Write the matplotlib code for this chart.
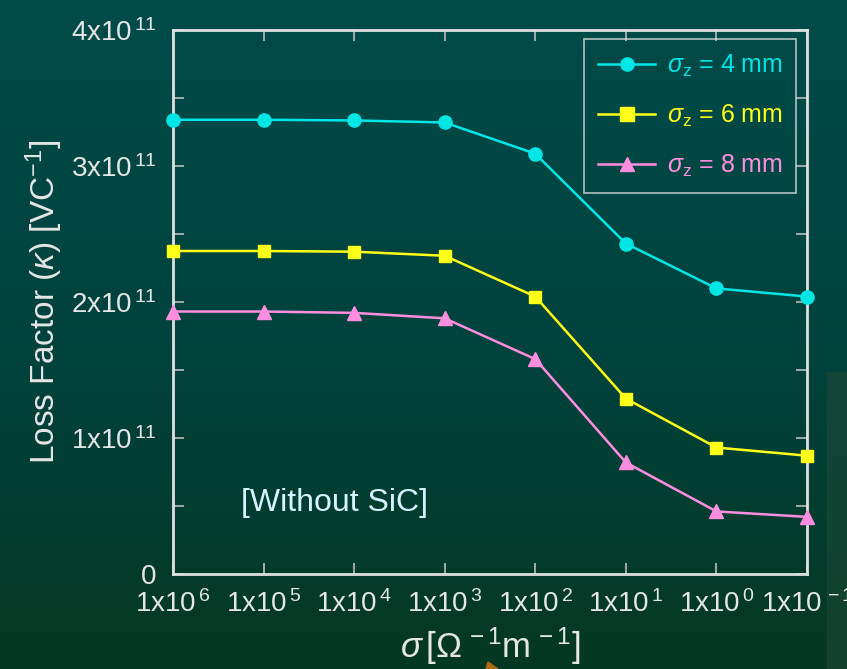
import numpy as np
import matplotlib
matplotlib.use("Agg")
import matplotlib.pyplot as plt
from matplotlib.lines import Line2D
from matplotlib.patches import Rectangle, Polygon

plt.rcParams['font.family'] = ['Liberation Sans', 'DejaVu Sans']
plt.rcParams['mathtext.fontset'] = 'custom'
plt.rcParams['mathtext.rm'] = 'Liberation Sans'
plt.rcParams['mathtext.it'] = 'Liberation Sans:italic'

# Conductivity sweep [1/(Ohm m)] and loss factor [V/C]
conductivity = [1e6, 1e5, 1e4, 1e3, 1e2, 1e1, 1e0, 1e-1]
loss_4mm = [3.34e11, 3.34e11, 3.335e11, 3.32e11, 3.09e11, 2.43e11, 2.10e11, 2.04e11]
loss_6mm = [2.375e11, 2.375e11, 2.37e11, 2.34e11, 2.04e11, 1.29e11, 0.93e11, 0.87e11]
loss_8mm = [1.93e11, 1.93e11, 1.92e11, 1.88e11, 1.58e11, 0.82e11, 0.46e11, 0.42e11]

x_tick_exps = [6, 5, 4, 3, 2, 1, 0, -1]
y_tick_vals = [0, 1e11, 2e11, 3e11, 4e11]
y_tick_labels = ['0'] + [r'$\mathrm{%dx10^{\,11}}$' % k for k in (1, 2, 3, 4)]

series_labels = ['4 mm', '6 mm', '8 mm']
series_colors = ['#00e6e6', '#ffff1a', '#ff8ee0']
series_markers = ['o', 's', '^']

TEXT = '#e6e6e6'
W, H = 847, 669
fig = plt.figure(figsize=(W / 100, H / 100), dpi=100)

# slide background: vertical teal-to-green gradient
bg = fig.add_axes([0, 0, 1, 1], zorder=-10)
top = np.array([0x00, 0x4b, 0x4a]) / 255
mid = np.array([0x00, 0x42, 0x3c]) / 255
bot = np.array([0x05, 0x38, 0x22]) / 255
t = np.linspace(0, 1, 256)[:, None]
grad = np.where(t < 0.55, top + (mid - top) * (t / 0.55),
                mid + (bot - mid) * ((t - 0.55) / 0.45))
bg.imshow(grad[:, None, :], aspect='auto', extent=[0, W, H, 0])
bg.add_patch(Rectangle((827, 372), 20, 297, color='#1c4836', alpha=0.6))
bg.add_patch(Polygon([[486, 669], [488, 662], [498, 669]], closed=True, color='#b06a10'))
bg.set_xlim(0, W)
bg.set_ylim(H, 0)
bg.axis('off')

ax = fig.add_axes([173 / W, 1 - 574 / H, (807 - 173) / W, (574 - 30) / H])
ax.set_facecolor('none')

series = [loss_4mm, loss_6mm, loss_8mm]
for vals, col, mk in zip(series, series_colors, series_markers):
    ax.plot(conductivity, vals, color=col, marker=mk, markersize=9.5 if mk != 's' else 9,
            lw=1.8, clip_on=False, zorder=5)

ax.set_xscale('log')
ax.set_xlim(1e6, 1e-1)
ax.set_ylim(0, 4e11)
ax.set_xticks([10.0 ** e for e in x_tick_exps])
ax.set_xticklabels([r'$\mathrm{1x10^{\,%d}}$' % e for e in x_tick_exps])
ax.xaxis.set_minor_locator(matplotlib.ticker.NullLocator())
ax.set_yticks(y_tick_vals)
ax.set_yticklabels(y_tick_labels)
ax.set_yticks(np.arange(0.5e11, 4e11, 1e11), minor=True)

for sp in ax.spines.values():
    sp.set_color('#e0e0e0')
    sp.set_linewidth(2)
ax.tick_params(which='both', direction='in', top=True, right=True,
               colors='#bdbdbd', labelcolor=TEXT, labelsize=20, width=1.2)
ax.tick_params(which='major', length=8)
ax.tick_params(which='minor', length=8)
ax.tick_params(axis='x', pad=12)
ax.tick_params(axis='y', pad=12)

ax.set_xlabel(r'$\mathit{\sigma}\,[\Omega^{\mathrm{\,-1}}\mathrm{m}^{\mathrm{\,-1}}]$',
              fontsize=25, color=TEXT, labelpad=5)
ax.set_ylabel(r'Loss Factor ($\mathit{\kappa}$) [VC$^{\mathrm{-1}}$]',
              fontsize=24, color=TEXT, labelpad=4)

ax.text(0.255, 0.13, '[Without SiC]', transform=ax.transAxes, fontsize=23,
        color='#d6f2ff', ha='center', va='center')

# legend with colored labels
handles = [Line2D([], [], color=c, marker=m, markersize=9.5, lw=1.8)
           for c, m in zip(series_colors, series_markers)]
labels = [r'$\mathit{\sigma}_{\mathrm{z}}$ = ' + s for s in series_labels]
leg = ax.legend(handles, labels, loc='upper right', bbox_to_anchor=(0.983, 0.983),
                fontsize=18, frameon=True, fancybox=False, handlelength=2.3,
                borderpad=0.55, labelspacing=0.95, handletextpad=0.45,
                borderaxespad=0)
leg.get_frame().set_facecolor('none')
leg.get_frame().set_edgecolor('#e0e0e0')
leg.get_frame().set_linewidth(1.2)
for txt, c in zip(leg.get_texts(), series_colors):
    txt.set_color(c)

fig.savefig('out.png', dpi=100)
